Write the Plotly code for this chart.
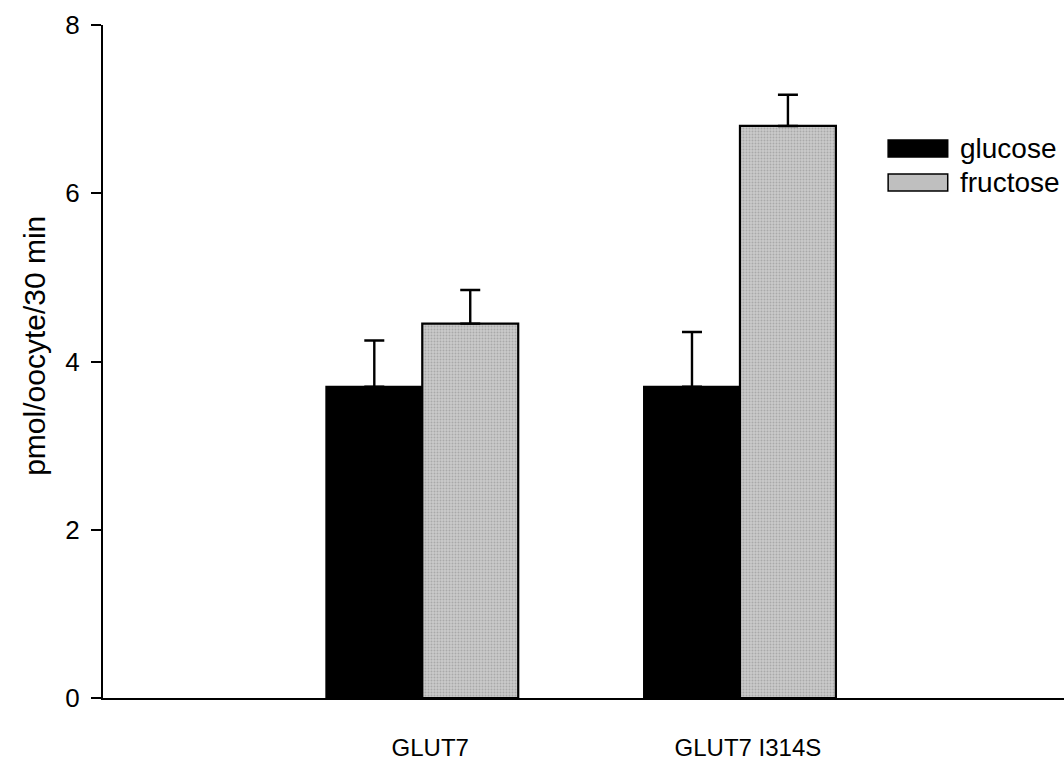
import plotly.graph_objects as go

# Uptake data (pmol/oocyte/30 min), mean and upper SE
constructs = ["GLUT7", "GLUT7 I314S"]
glucose = [3.7, 3.7]
glucose_err = [0.55, 0.65]
fructose = [4.45, 6.8]
fructose_err = [0.4, 0.37]
y_ticks = [0, 2, 4, 6, 8]

xpos = list(range(len(constructs)))
bar_w = 0.302
grey = "#bfbfbf"

fig = go.Figure()
fig.add_trace(go.Bar(
    x=xpos, y=glucose, name="glucose",
    width=bar_w, offset=-bar_w,
    marker=dict(color="black", line=dict(color="black", width=2)),
    error_y=dict(type="data", array=glucose_err, arrayminus=[0] * len(glucose),
                 symmetric=False, color="black", thickness=2.4, width=10),
))
fig.add_trace(go.Bar(
    x=xpos, y=fructose, name="fructose",
    width=bar_w, offset=0,
    marker=dict(color=grey, line=dict(color="black", width=2.2),
                pattern=dict(shape=".", fgcolor="#888888", bgcolor="#cacaca",
                             size=3, solidity=0.32)),
    error_y=dict(type="data", array=fructose_err, arrayminus=[0] * len(fructose),
                 symmetric=False, color="black", thickness=2.4, width=10),
))

# Hand-drawn legend boxes with labels
legend_items = [("glucose", "black"), ("fructose", grey)]
for i, (label, fill) in enumerate(legend_items):
    y_top = 0.829 - i * 0.0505
    fig.add_shape(type="rect", xref="paper", yref="paper",
                  x0=0.817, x1=0.879, y0=y_top - 0.025, y1=y_top,
                  line=dict(color="black", width=1.5), fillcolor=fill)
    fig.add_annotation(xref="paper", yref="paper", x=0.890, y=y_top - 0.0125,
                       text=label, showarrow=False, xanchor="left", yanchor="middle",
                       font=dict(size=28, color="black"))

# Y-axis title
fig.add_annotation(xref="paper", yref="paper", x=-0.072, y=0.523,
                   text="pmol/oocyte/30 min", textangle=-90, showarrow=False,
                   xanchor="center", yanchor="middle",
                   font=dict(size=30, color="black"))

fig.update_layout(
    width=1064, height=769,
    margin=dict(l=103, r=0, t=25, b=71),
    paper_bgcolor="white", plot_bgcolor="white",
    showlegend=False,
    font=dict(family="Liberation Sans, Arial, sans-serif", color="black"),
    barmode="overlay",
)
fig.update_xaxes(
    range=[-1.005, 2.02], tickvals=xpos, ticktext=constructs, automargin=False,
    showline=True, linecolor="black", linewidth=2, showgrid=False, zeroline=False,
    ticks="", tickfont=dict(size=24), ticklabelstandoff=27, ticklabelshift=8,
)
fig.update_yaxes(
    range=[0, 8], tickvals=y_ticks, automargin=False,
    showline=True, linecolor="black", linewidth=2,
    showgrid=False, zeroline=False, ticks="outside", ticklen=10, tickwidth=1.5,
    tickcolor="black", tickfont=dict(size=26), ticklabelstandoff=6,
)

fig.write_html("out.html")
